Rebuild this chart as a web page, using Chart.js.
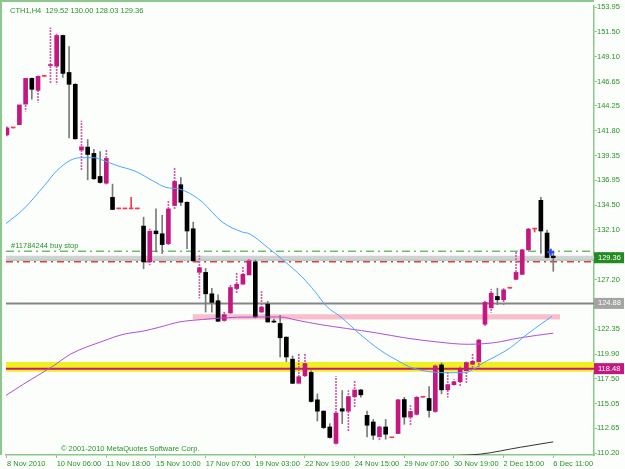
<!DOCTYPE html>
<html>
<head>
<meta charset="utf-8">
<title>CTH1,H4</title>
<script src="https://cdn.jsdelivr.net/npm/chart.js@4.4.1/dist/chart.umd.min.js"></script>
<style>
  html, body { margin: 0; padding: 0; background: #fcfefc; }
  canvas { display: block; }
</style>
</head>
<body>
<canvas id="mtChart" width="625" height="469"></canvas>
<script>
// H4 candles, bar 0 = 8 Nov 2010
const opens = [
  141.41, 142.09, 142.41, 144.42, 146.95, 145.78, 147.15, 148.21, 148.15, 151.16,
  147.53, 146.37, 139.92, 140.21, 139.59, 137.33, 136.67, 135.28, 134.15, 134.15,
  134.15, 134.15, 132.46, 128.96, 131.98, 131.71, 130.74, 134.48, 136.52, 134.80,
  132.20, 127.92, 127.92, 125.82, 125.14, 123.20, 123.94, 126.34, 126.76, 127.67,
  128.96, 124.03, 124.81, 123.15, 122.91, 121.57, 119.41, 117.04, 117.79, 118.11,
  115.42, 114.31, 112.76, 111.14, 114.55, 114.31, 115.74, 116.39, 113.90, 113.25,
  111.79, 112.76, 111.70, 112.12, 115.45, 113.73, 114.00, 115.67, 115.55, 114.28,
  118.85, 116.40, 116.91, 117.20, 118.27, 118.92, 119.15, 122.84, 124.43, 125.56,
  125.24, 126.37, 127.24, 127.73, 130.13, 132.17, 134.99, 131.78, 129.52
];
const highs = [
  142.20, 142.09, 144.40, 147.05, 147.00, 147.20, 147.15, 151.91, 151.30, 151.20,
  150.06, 146.45, 142.77, 140.95, 139.98, 139.76, 139.92, 136.58, 134.15, 134.15,
  135.28, 134.15, 133.34, 132.17, 134.15, 133.53, 135.00, 138.20, 137.23, 134.85,
  132.85, 129.55, 128.31, 126.37, 125.73, 124.10, 126.73, 127.89, 128.48, 129.19,
  129.13, 126.05, 125.08, 123.35, 123.71, 121.60, 119.73, 119.89, 119.95, 118.27,
  116.00, 114.35, 113.09, 117.69, 116.33, 116.33, 117.30, 116.45, 114.31, 113.50,
  112.93, 113.50, 111.70, 115.52, 115.67, 114.87, 115.74, 115.67, 116.71, 118.85,
  119.05, 118.10, 117.40, 118.66, 119.15, 119.95, 121.38, 125.10, 126.27, 126.37,
  126.34, 126.37, 129.94, 130.20, 132.27, 132.17, 135.28, 132.08, 130.00
];
const lows = [
  141.30, 142.09, 142.35, 143.74, 144.91, 144.62, 147.15, 146.46, 146.40, 147.05,
  141.12, 141.00, 137.91, 137.00, 137.03, 136.67, 136.58, 134.07, 134.15, 134.15,
  134.15, 134.15, 128.28, 128.67, 129.94, 129.77, 130.62, 134.15, 134.48, 130.26,
  128.96, 125.39, 124.03, 124.03, 123.10, 123.13, 123.91, 125.88, 126.70, 127.60,
  123.45, 124.00, 123.03, 123.00, 119.63, 119.17, 117.00, 117.00, 117.62, 115.20,
  113.34, 112.60, 111.66, 111.08, 113.09, 112.37, 114.70, 115.68, 111.79, 111.53,
  111.47, 111.56, 111.70, 112.05, 113.02, 112.93, 113.95, 115.67, 113.73, 114.20,
  116.00, 115.68, 116.85, 116.81, 117.04, 118.59, 118.66, 122.65, 124.00, 124.76,
  124.76, 126.37, 127.21, 127.60, 130.10, 131.88, 129.77, 129.35, 128.03
];
const closes = [
  142.09, 142.09, 144.35, 146.95, 145.88, 147.15, 147.15, 148.25, 151.16, 147.44,
  146.37, 141.02, 140.24, 139.49, 137.10, 136.74, 139.10, 134.09, 134.15, 134.15,
  134.15, 134.15, 128.96, 131.98, 131.71, 130.65, 134.15, 136.84, 134.80, 131.98,
  129.06, 128.38, 125.82, 124.98, 123.13, 123.78, 126.44, 126.76, 127.73, 129.06,
  123.55, 124.52, 123.06, 123.05, 121.51, 119.63, 117.04, 117.69, 118.98, 115.26,
  114.31, 112.70, 111.73, 114.12, 114.31, 115.74, 116.39, 115.91, 112.93, 111.95,
  112.76, 112.05, 111.70, 115.42, 113.73, 114.28, 115.67, 115.67, 114.38, 118.76,
  116.40, 116.91, 117.20, 118.46, 119.08, 119.20, 121.28, 124.98, 125.88, 125.24,
  126.21, 126.37, 127.92, 130.13, 132.17, 132.17, 131.98, 129.38, 129.36
];

// moving averages, read at selected bars
const maFastBars = [-0.2, 2.7, 6, 8, 10.2, 11.8, 13.9, 15.5, 17.6, 20.8, 23.5, 25.6, 27.8, 29.9, 31.5, 34.7, 37.9, 39, 42.2, 44.8, 47.5, 49.6, 51.5, 54, 56.6, 60.3, 63.5, 65.1, 70.4, 73.6, 76.8, 81.1, 83.8, 87.8];
const maFast = [132.69, 134.15, 136.42, 137.88, 138.91, 139.17, 139.17, 138.91, 138.42, 137.81, 136.90, 136.26, 136.09, 135.51, 134.80, 132.85, 131.88, 131.72, 130.26, 128.96, 127.49, 126.05, 124.59, 123.45, 121.99, 120.22, 119.08, 118.59, 118.08, 118.08, 119.08, 120.54, 121.87, 123.62];
const maSlowBars = [-0.2, 2.7, 7.5, 10.2, 15.5, 18.7, 21.9, 24.6, 27.8, 31.5, 37.1, 44, 46.7, 50.4, 54.7, 59.5, 64, 69.4, 74.2, 78.4, 82.7, 88];
const maSlow = [115.84, 116.98, 118.76, 119.89, 121.19, 121.84, 122.16, 122.55, 123.06, 123.30, 123.52, 123.55, 123.23, 122.81, 122.42, 121.99, 121.51, 121.09, 120.87, 121.02, 121.51, 121.96];
const maLongBars = [72, 76.3, 82.7, 88];
const maLong = [109.95, 110.10, 110.77, 111.30];

// axis ticks
const xTickBars = [0, 8, 16, 24, 32, 40, 48, 56, 64, 72, 80, 88];
const xTickLabels = ['8 Nov 2010', '10 Nov 06:00', '11 Nov 18:00', '15 Nov 10:00', '17 Nov 07:00', '19 Nov 03:00',
  '22 Nov 19:00', '24 Nov 15:00', '29 Nov 07:00', '30 Nov 19:00', '2 Dec 15:00', '6 Dec 11:00'];
const yTicks = [153.95, 151.50, 149.10, 146.65, 144.25, 141.80, 139.35, 136.95, 134.50, 132.10,
  129.65, 127.20, 124.80, 122.35, 119.90, 117.50, 115.05, 112.65, 110.20];

// objects on the chart
const buyStopPrice = 130.00;
const bidBand = [129.20, 129.55];
const askPrice = 129.13;
const stopPrice = 128.96;
const greyLevel = 124.88;
const pinkZoneBars = [29.9, 89.1];
const pinkZone = [123.31, 123.81];
const yellowZone = [118.17, 119.14];
const magentaLevel = 118.48;
const markBars = [87.6];
const markPrices = [129.90];
const boxPrices = [129.36, 124.88, 118.48];
const boxColors = ['#228b22', '#a4a4a4', '#c4177f'];

const X_MIN = -0.16, X_MAX = 94.56;
const green = '#2a922a';
const frameGreen = '#8cc88c';
const font = { family: 'Liberation Sans', size: 7.5 };

// dotted pink wick for bull candles
function dottedPattern(color) {
  const c = document.createElement('canvas');
  c.width = 2; c.height = 3;
  const g = c.getContext('2d');
  g.fillStyle = color;
  g.fillRect(0, 0, 2, 2);
  return g.createPattern(c, 'repeat');
}

const bull = [], bear = [], doji = [];
const bullWick = [], bearWick = [], dojiWick = [];
opens.forEach((o, i) => {
  const c = closes[i];
  const body = { x: i, y: [o, c] };
  const wick = { x: i, y: [lows[i], highs[i]] };
  if (c > o) { bull.push(body); bullWick.push(wick); }
  else if (c < o) { bear.push(body); bearWick.push(wick); }
  else { doji.push(body); dojiWick.push(wick); }
});

function hline(price, color, width, dash, order) {
  return {
    type: 'line', data: [{ x: X_MIN, y: price }, { x: X_MAX, y: price }],
    borderColor: color, borderWidth: width, borderDash: dash || [],
    pointRadius: 0, fill: false, order: order || 9
  };
}
function band(lo, hi, x0, x1, color) {
  return {
    type: 'line', data: [{ x: x0, y: hi }, { x: x1, y: hi }],
    borderWidth: 0, pointRadius: 0, backgroundColor: color,
    fill: { value: lo }, order: 10
  };
}
function bodySet(data, color) {
  return { type: 'bar', data, backgroundColor: color, borderWidth: 0, barThickness: 4, minBarLength: 1, grouped: false, order: 4 };
}
function wickSet(data, color) {
  return { type: 'bar', data, backgroundColor: color, borderWidth: 0, barThickness: 1, grouped: false, order: 5 };
}
function maSet(bars, values, color) {
  return {
    type: 'line', data: bars.map((b, i) => ({ x: b, y: values[i] })),
    borderColor: color, borderWidth: 1, pointRadius: 0, fill: false,
    cubicInterpolationMode: 'monotone', order: 2
  };
}

const mtOverlay = {
  id: 'mtOverlay',
  beforeDraw(chart) {
    const ctx = chart.ctx;
    ctx.save();
    ctx.fillStyle = '#fcfefc';
    ctx.fillRect(0, 0, chart.width, chart.height);
    ctx.restore();
  },
  afterDraw(chart) {
    const { ctx, chartArea: a, scales: { y } } = chart;
    ctx.save();
    ctx.strokeStyle = frameGreen;
    ctx.lineWidth = 2;
    ctx.beginPath();
    ctx.moveTo(1, a.bottom); ctx.lineTo(1, 1); ctx.lineTo(a.right, 1);
    ctx.stroke();

    ctx.font = '7.5px "Liberation Sans"';
    ctx.textBaseline = 'middle';
    ctx.textAlign = 'left';
    ctx.fillStyle = green;
    const last = opens.length - 1;
    ctx.fillText('CTH1,H4  ' + [opens[last], highs[last], lows[last], closes[last]].map(v => v.toFixed(2)).join(' '), a.left + 4, a.top + 5);
    ctx.fillText('#11784244 buy stop', a.left + 5, y.getPixelForValue(buyStopPrice) - 5);
    ctx.fillText('\u00a9 2001-2010 MetaQuotes Software Corp.', a.left + 55, a.bottom - 6);

    boxPrices.forEach((p, i) => {
      const py = y.getPixelForValue(p);
      ctx.fillStyle = boxColors[i];
      ctx.fillRect(a.right, py - 5.5, 30, 11);
      ctx.fillStyle = '#ffffff';
      ctx.fillText(p.toFixed(2), a.right + 4, py);
    });
    ctx.restore();
  }
};

new Chart(document.getElementById('mtChart'), {
  type: 'bar',
  data: {
    datasets: [
      band(yellowZone[0], yellowZone[1], X_MIN, X_MAX, '#eef21c'),
      band(pinkZone[0], pinkZone[1], pinkZoneBars[0], pinkZoneBars[1], '#f8bfcb'),
      band(bidBand[0], bidBand[1], X_MIN, X_MAX, '#d2d2d2'),
      hline(askPrice, '#6aaaa8', 1),
      hline(buyStopPrice, '#6cbf6c', 1.5, [8, 4, 2, 4]),
      hline(stopPrice, '#f03a3a', 1.5, [7, 4, 2, 4]),
      hline(greyLevel, '#858585', 2),
      hline(magentaLevel, '#c4177f', 2),
      wickSet(bearWick, '#7a7a7a'),
      wickSet(bullWick, dottedPattern('#d55aa5')),
      wickSet(dojiWick, '#ee3f4f'),
      bodySet(bear, '#000000'),
      bodySet(bull, '#c4177f'),
      bodySet(doji, '#ee3f4f'),
      maSet(maFastBars, maFast, '#4da6ff'),
      maSet(maSlowBars, maSlow, '#b050d8'),
      maSet(maLongBars, maLong, '#333333'),
      {
        type: 'line', data: markBars.map((b, i) => ({ x: b, y: markPrices[i] })),
        showLine: false, pointStyle: 'cross', pointRadius: 3.5, borderColor: '#1e4cff', borderWidth: 2, order: 1
      }
    ]
  },
  options: {
    responsive: false,
    devicePixelRatio: 1,
    animation: false,
    events: [],
    layout: { padding: { left: 2, top: 2, right: 0, bottom: 0 } },
    plugins: { legend: { display: false }, tooltip: { enabled: false } },
    scales: {
      x: {
        type: 'linear', min: X_MIN, max: X_MAX, offset: false,
        afterBuildTicks: s => { s.ticks = xTickBars.map(v => ({ value: v })); },
        afterFit: s => { s.height = 14; s.paddingLeft = 0; s.paddingRight = 0; },
        ticks: { autoSkip: false, maxRotation: 0, align: 'start', padding: 1, color: green, font,
          callback: (v, i) => xTickLabels[i] },
        grid: { drawOnChartArea: false, offset: false, tickLength: 3, color: frameGreen },
        border: { color: frameGreen, width: 1.5 }
      },
      y: {
        position: 'right', min: 110.01, max: 154.05,
        afterBuildTicks: s => { s.ticks = yTicks.map(v => ({ value: v })); },
        afterFit: s => { s.width = 31; s.paddingTop = 0; s.paddingBottom = 0; },
        ticks: { autoSkip: false, padding: 0, color: green, font, callback: v => v.toFixed(2) },
        grid: { drawOnChartArea: false, tickLength: 3, color: frameGreen },
        border: { color: frameGreen, width: 1.5 }
      }
    }
  },
  plugins: [mtOverlay]
});
</script>
</body>
</html>
